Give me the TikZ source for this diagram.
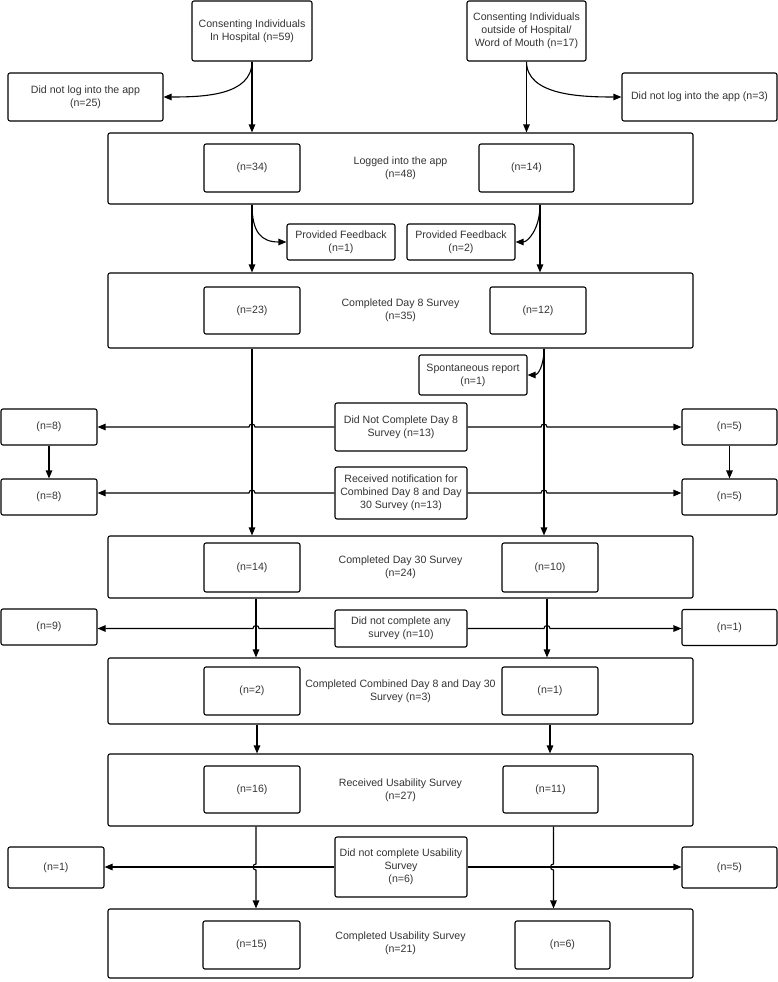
\documentclass[tikz,border=0pt]{standalone}
\usepackage{fontspec}
\setmainfont{Liberation Sans}
\usepackage{tikz}
\usetikzlibrary{arrows.meta,calc}

\begin{document}
\begin{tikzpicture}[x=1pt,y=-1pt,
  flowbox/.style={draw,rounded corners=2pt,line width=1.1pt,align=center,inner sep=2pt,
    font=\fontsize{10.6}{12.8}\selectfont,text=black!80},
  groupbox/.style={flowbox,minimum width=585},
  armbox/.style={flowbox,minimum width=96,minimum height=48},
  midbox/.style={flowbox,minimum width=132},
  sidebox/.style={flowbox,minimum width=96,minimum height=36},
  arr/.style={line width=1.1pt,-{Triangle[length=8pt,width=6.5pt]}}]
\useasboundingbox (0,0) rectangle (778,982);

\node[flowbox,minimum width=120,minimum height=60] (consHosp) at (252,31) {Consenting Individuals\\In Hospital (n=59)};
\node[flowbox,minimum width=119,minimum height=60] (consOut) at (526.5,31) {Consenting Individuals\\outside of Hospital/\\Word of Mouth (n=17)};
\node[flowbox,minimum width=155,minimum height=48] (noLogL) at (85.5,97) {Did not log into the app\\(n=25)};
\node[flowbox,minimum width=155,minimum height=48] (noLogR) at (699.5,97) {Did not log into the app (n=3)};

\node[groupbox,minimum height=71] (logged) at (400.5,168.5) {Logged into the app\\(n=48)};
\node[armbox] (loggedL) at (252,168) {(n=34)};
\node[armbox,minimum width=95] (loggedR) at (526.5,168) {(n=14)};
\node[flowbox,minimum width=108,minimum height=36] (fbL) at (341,242) {Provided Feedback\\(n=1)};
\node[flowbox,minimum width=108,minimum height=36] (fbR) at (461,242) {Provided Feedback\\(n=2)};

\node[groupbox,minimum height=75] (day8) at (400.5,310.5) {Completed Day 8 Survey\\(n=35)};
\node[armbox,minimum height=47] (day8L) at (252,310.5) {(n=23)};
\node[armbox,minimum height=47] (day8R) at (538,310.5) {(n=12)};
\node[flowbox,minimum width=108,minimum height=40] (spont) at (473,375) {Spontaneous report\\(n=1)};

\node[midbox,minimum height=48] (noDay8) at (401,427) {Did Not Complete Day 8\\Survey (n=13)};
\node[sidebox] (noDay8L) at (49,427) {(n=8)};
\node[sidebox,minimum width=95] (noDay8R) at (729.5,427) {(n=5)};
\node[midbox,minimum height=52] (notif) at (401,493) {Received notification for\\Combined Day 8 and Day\\30 Survey (n=13)};
\node[sidebox] (notifL) at (49,497) {(n=8)};
\node[sidebox,minimum width=95] (notifR) at (729.5,497) {(n=5)};

\node[groupbox,minimum height=62] (day30) at (400.5,567) {Completed Day 30 Survey\\(n=24)};
\node[armbox,minimum height=49] (day30L) at (252,567.5) {(n=14)};
\node[armbox,minimum height=49] (day30R) at (550,567.5) {(n=10)};

\node[midbox,minimum height=37] (noAny) at (401,628.5) {Did not complete any\\survey (n=10)};
\node[sidebox] (noAnyL) at (49,627) {(n=9)};
\node[sidebox,minimum width=95] (noAnyR) at (729.5,627.5) {(n=1)};

\node[groupbox,minimum height=66] (comb) at (400.5,691) {Completed Combined Day 8 and Day 30\\Survey (n=3)};
\node[armbox] (combL) at (252,691) {(n=2)};
\node[armbox] (combR) at (550,691) {(n=1)};

\node[groupbox,minimum height=72] (usRec) at (400.5,790) {Received Usability Survey\\(n=27)};
\node[armbox,minimum height=47] (usRecL) at (252,789.5) {(n=16)};
\node[armbox,minimum width=95,minimum height=47] (usRecR) at (550.5,789.5) {(n=11)};

\node[midbox,minimum height=60] (noUs) at (401,867) {Did not complete Usability\\Survey\\(n=6)};
\node[sidebox,minimum height=41] (noUsL) at (56,867.5) {(n=1)};
\node[sidebox,minimum width=95,minimum height=41] (noUsR) at (729.5,867.5) {(n=5)};

\node[groupbox,minimum height=69] (usDone) at (400.5,943.5) {Completed Usability Survey\\(n=21)};
\node[armbox,minimum width=97] (usDoneL) at (251.5,945) {(n=15)};
\node[armbox,minimum width=95] (usDoneR) at (562.5,945) {(n=6)};

\draw[arr] (consHosp.south) -- (consHosp.south |- logged.north);
\draw[arr] (consOut.south) -- (consOut.south |- logged.north);
\draw[arr] (consHosp.south) .. controls +(0,34) and +(40,0) .. (noLogL.east);
\draw[arr] (consOut.south) .. controls +(0,34) and +(-40,0) .. (noLogR.west);

\draw[arr] (logged.south -| loggedL) -- (day8.north -| loggedL);
\draw[arr] ($(logged.south -| loggedR)+(13.5,0)$) -- ($(day8.north -| loggedR)+(13.5,0)$);
\draw[arr] (logged.south -| loggedL) .. controls +(0,28) and +(-25,0) .. (fbL.west);
\draw[arr] ($(logged.south -| loggedR)+(13.5,0)$) .. controls +(0,25) and +(12,0) .. (fbR.east);

\draw[arr] (day8.south -| day8L) -- (day30.north -| day8L);
\draw[arr] ($(day8.south -| day8R)+(6,0)$) -- ($(day30.north -| day8R)+(6,0)$);
\draw[arr] ($(day8.south -| day8R)+(6,0)$) .. controls +(0,18) and +(10,0) .. (spont.east);

\draw[arr] (noDay8.west) -- ($(noDay8.west -| day8L)+(3,0)$) arc[start angle=0,end angle=180,radius=3pt] -- (noDay8L.east |- noDay8.west);
\draw[arr] (noDay8.east) -- ($(noDay8.east -| day8R)+(3,0)$) arc[start angle=180,end angle=0,radius=3pt] -- (noDay8R.west |- noDay8.east);
\draw[arr] (noDay8L) -- (notifL);
\draw[arr] (noDay8R) -- (notifR);
\draw[arr] (notif.west) -- ($(notif.west -| day8L)+(3,0)$) arc[start angle=0,end angle=180,radius=3pt] -- (notifL.east |- notif.west);
\draw[arr] (notif.east) -- ($(notif.east -| day8R)+(3,0)$) arc[start angle=180,end angle=0,radius=3pt] -- (notifR.west |- notif.east);

\draw[arr] ($(day30.south -| day30L)+(4,0)$) -- ($(comb.north -| day30L)+(4,0)$);
\draw[arr] ($(day30.south -| day30R)+(-3,0)$) -- ($(comb.north -| day30R)+(-3,0)$);
\draw[arr] (noAny.west) -- ($(noAny.west -| day30L)+(7,0)$) arc[start angle=0,end angle=180,radius=3pt] -- (noAnyL.east |- noAny.west);
\draw[arr] (noAny.east) -- ($(noAny.east -| day30R)+(-6,0)$) arc[start angle=180,end angle=0,radius=3pt] -- (noAnyR.west |- noAny.east);

\draw[arr] ($(comb.south -| combL)+(5,0)$) -- ($(usRec.north -| combL)+(5,0)$);
\draw[arr] (comb.south -| combR) -- (usRec.north -| combR);

\draw[arr] ($(usRec.south -| usRecL)+(4,0)$) -- ($(noUs.west -| usRecL)+(4,-3)$) arc[start angle=90,end angle=270,radius=3pt] -- ($(usDone.north -| usRecL)+(4,0)$);
\draw[arr] ($(usRec.south -| usRecR)+(3,0)$) -- ($(noUs.east -| usRecR)+(3,-3)$) arc[start angle=90,end angle=270,radius=3pt] -- ($(usDone.north -| usRecR)+(3,0)$);
\draw[arr] (noUs.west) -- (noUsL.east |- noUs.west);
\draw[arr] (noUs.east) -- (noUsR.west |- noUs.east);
\end{tikzpicture}
\end{document}
